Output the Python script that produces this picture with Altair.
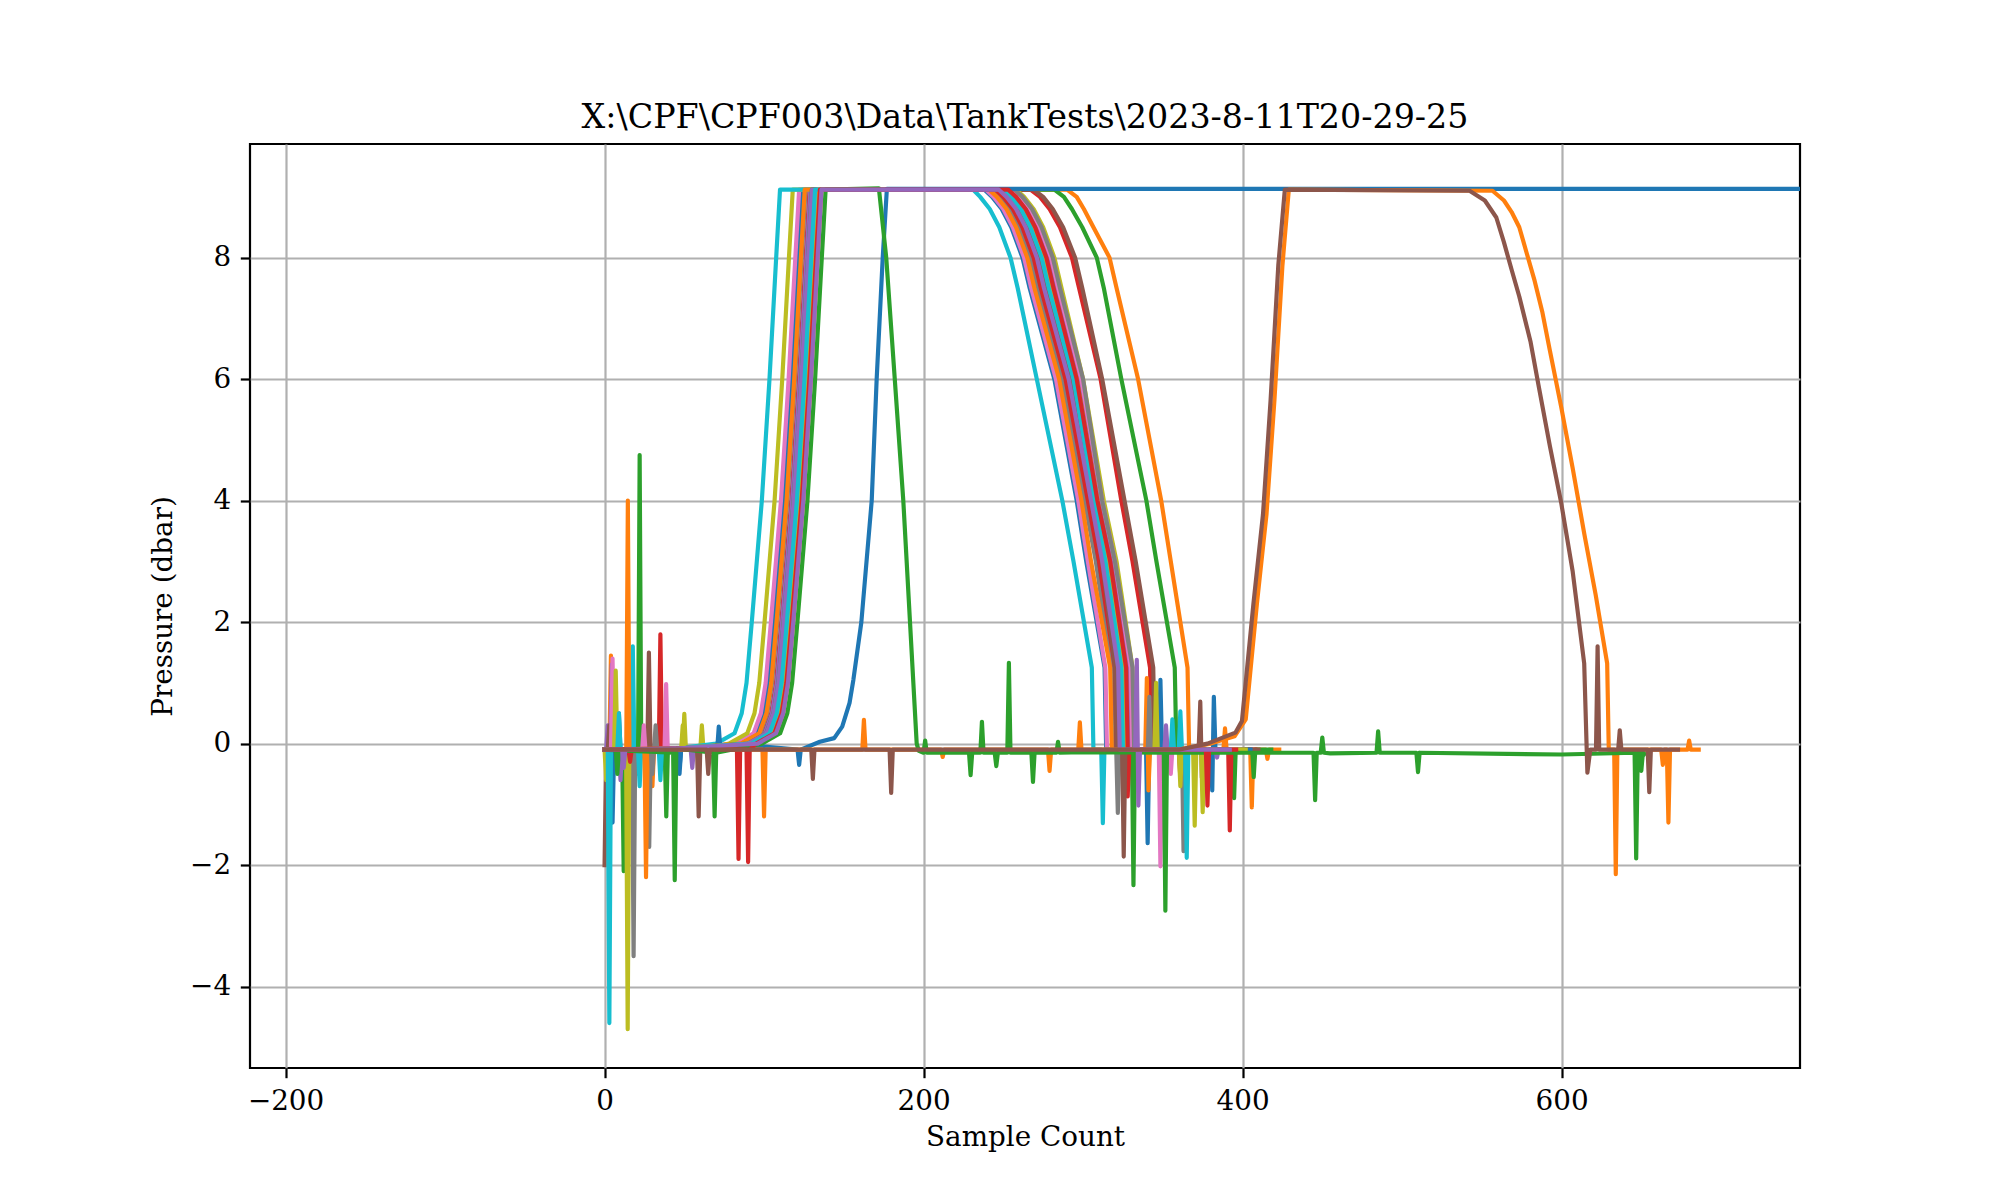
import altair as alt
import pandas as pd

TITLE = r"X:\CPF\CPF003\Data\TankTests\2023-8-11T20-29-25"
X_TITLE = "Sample Count"
Y_TITLE = "Pressure (dbar)"
X_TICKS = [-200, 0, 200, 400, 600]
Y_TICKS = [-4, -2, 0, 2, 4, 6, 8]
X_DOMAIN = [-222.3, 749.5]
Y_DOMAIN = [-5.34, 9.87]

TAB10 = ["#1f77b4", "#ff7f0e", "#2ca02c", "#d62728", "#9467bd",
         "#8c564b", "#e377c2", "#7f7f7f", "#bcbd22", "#17becf"]
SERIES = ["s%02d" % i for i in range(26)]
COLORS = [TAB10[i % 10] for i in range(26)]

RISE_LEVELS = [0.0, 0.17, 0.5, 1.0, 2.0, 4.0, 6.0, 8.0, 9.12]
FALL_LEVELS = [9.12, 9.0, 8.8, 8.5, 8.0, 7.5, 6.0, 4.0, 3.0, 1.25]

# sample count where each series crosses RISE_LEVELS (None = read separately)
RISE_X = [
    [84, 95.5, 100, 103, 106.3, 112.6, 117.4, 121.6, 124],          # s00
    [96, 107.5, 112, 115, 118.3, 124.6, 129.4, 133.6, 136],         # s01
    [92, 103.5, 108, 111, 114.3, 120.6, 125.4, 129.6, 132],         # s02
    [88.5, 100, 104.5, 107.5, 110.8, 117.1, 121.9, 126.1, 128.5],   # s03
    [89, 100.5, 105, 108, 111.3, 117.6, 122.4, 126.6, 129],         # s04
    [92.5, 104, 108.5, 111.5, 114.8, 121.1, 125.9, 130.1, 132.5],   # s05
    [82, 93.5, 98, 101, 104.3, 110.6, 115.4, 119.6, 122],           # s06
    [86, 97.5, 102, 105, 108.3, 114.6, 119.4, 123.6, 126],          # s07
    [78, 89.5, 94, 97, 100.3, 106.6, 111.4, 115.6, 118],            # s08
    [70, 81.5, 86, 89, 92.3, 98.6, 103.4, 107.6, 110],              # s09
    [91, 102.5, 107, 110, 113.3, 119.6, 124.4, 128.6, 131],         # s10
    [85.5, 97, 101.5, 104.5, 107.8, 114.1, 118.9, 123.1, 125.5],    # s11
    [90, 101.5, 106, 109, 112.3, 118.6, 123.4, 127.6, 130],         # s12
    [93, 104.5, 109, 112, 115.3, 121.6, 126.4, 130.6, 133],         # s13
    [90, 101.5, 106, 109, 112.3, 118.6, 123.4, 127.6, 130],         # s14
    [94, 105.5, 110, 113, 116.3, 122.6, 127.4, 131.6, 134],         # s15
    [93.5, 105, 109.5, 112.5, 115.8, 122.1, 126.9, 131.1, 133.5],   # s16
    [94.5, 106, 110.5, 113.5, 116.8, 123.1, 127.9, 132.1, 134.5],   # s17
    [93.5, 105, 109.5, 112.5, 115.8, 122.1, 126.9, 131.1, 133.5],   # s18
    [92, 103.5, 108, 111, 114.3, 120.6, 125.4, 129.6, 132],         # s19
    None,                                                           # s20
    None,                                                           # s21
    [98.6, 110.1, 114.6, 117.6, 120.9, 127.2, 132, 136.2, 138.6],   # s22
    [95, 106.5, 111, 114, 117.3, 123.6, 128.4, 132.6, 135],         # s23
    [96, 107.5, 112, 115, 118.3, 124.6, 129.4, 133.6, 136],         # s24
    None,                                                           # s25
]

# sample count where each series crosses FALL_LEVELS
FALL_X = [
    [238, 243, 249, 255, 262, 266.5, 282, 296, 302, 313.5],         # s00
    [290, 296, 300.5, 306.5, 316.6, 321, 334.5, 349, 355, 365.5],   # s01
    [282, 288, 293, 299.5, 308.6, 313, 324, 339.7, 346, 357.5],     # s02
    [267, 273, 279, 285.5, 293, 297.5, 311, 324, 331, 342],         # s03
    [246, 251, 257, 263, 270, 274.5, 290, 304, 311, 321],           # s04
    [269, 275, 281, 287.5, 295, 299.5, 312, 326, 333, 344],         # s05
    [239, 244, 250, 256, 263, 267.5, 283, 297, 303, 314],           # s06
    [243, 248, 254, 260, 267, 271.5, 287, 301, 308, 318],           # s07
    [258, 263, 269, 275, 282, 286.5, 300, 313, 321, 331],           # s08
    [231, 235.5, 241.5, 247.5, 254.5, 259, 271, 287, 294, 305.5],   # s09
    [246, 251, 257, 263, 270, 274.5, 290, 304, 310, 321],           # s10
    [241, 246, 252, 258, 265, 269.5, 285, 299, 305, 317],           # s11
    [249, 254, 260, 266, 273, 277.5, 293, 306, 313, 323],           # s12
    [245, 250, 256, 262, 269, 273.5, 289, 303, 310, 320],           # s13
    [254, 259, 265, 271, 278, 282.5, 297, 310, 318, 328],           # s14
    [248, 253, 259, 265, 272, 276.5, 292, 305, 312, 320],           # s15
    [256, 261, 267, 273, 280, 284.5, 299, 312, 320, 330],           # s16
    [257, 262, 268, 274, 281, 285.5, 300, 312, 320, 331],           # s17
    [252, 257, 263, 269, 276, 280.5, 296, 309, 316, 326],           # s18
    [250, 255, 261, 267, 274, 278.5, 294, 307, 314, 324],           # s19
    None,                                                           # s20
    None,                                                           # s21
    None,                                                           # s22
    [253, 258, 264, 270, 277, 281.5, 296, 309, 317, 327],           # s23
    [247, 252, 258, 264, 271, 275.5, 291, 305, 312, 322],           # s24
    None,                                                           # s25
]

END_X = [395, 423, 418, 408, 392, 410, 385, 388, 392, 380, 405, 400, 398,
         395, 395, 390, 398, 400, 402, 390, None, None, None, 396, 392, None]

# series whose shape was read point by point
S20_X = [0, 100, 135, 144, 149, 153.6, 156, 161, 167.5, 170.6, 174.4, 177, 800]
S20_Y = [-0.1, -0.05, 0.03, 0.09, 0.28, 0.67, 1.05, 2.0, 4.0, 6.0, 8.0, 9.13, 9.13]

S21_X = [0, 360, 380, 395, 402, 409, 415, 420, 425, 429, 556.7, 563.9, 568.7,
         573.5, 578.3, 583.1, 587.9, 592.6, 599.8, 607, 614.2, 621.4, 628.6, 629.6, 686]
S21_Y = [-0.1, -0.1, 0.0, 0.12, 0.4, 2.3, 3.77, 5.66, 7.87, 9.12, 9.1, 8.94, 8.75,
         8.5, 8.06, 7.62, 7.11, 6.48, 5.54, 4.53, 3.46, 2.45, 1.32, -0.1, -0.1]

S22_X = [172, 176.6, 187.3, 191.5, 195.7, 197, 300, 455, 600, 652]
S22_Y = [9.14, 8.0, 4.0, 2.0, 0.0, -0.12, -0.14, -0.16, -0.18, -0.17]

S25_X = [0, 360, 378, 395.5, 399.6, 406.8, 412.8, 417.6, 422.4, 426.5, 542.3, 551.9,
         559.1, 563.9, 568.7, 573.5, 580.6, 585.4, 592.6, 599.8, 607, 614.2, 616.2, 618, 673]
S25_Y = [-0.1, -0.1, 0.0, 0.18, 0.37, 2.3, 3.77, 5.66, 7.87, 9.12, 9.1, 8.94,
         8.66, 8.25, 7.8, 7.36, 6.61, 5.92, 4.91, 3.96, 2.83, 1.32, -0.48, -0.1, -0.1]

EXPLICIT = {20: (S20_X, S20_Y), 21: (S21_X, S21_Y), 22: (S22_X, S22_Y), 25: (S25_X, S25_Y)}

# single-sample spikes (sample count, pressure)
SPIKES = [
    [(5, -1.3), (9, 0.5), (47, -0.4), (381, -0.77), (382, 0.77)],                    # s00
    [(4, 1.45), (30, -0.7), (389, 0.25), (405.8, -1.05), (415.6, -0.25)],            # s01
    [(12, -2.1), (38.7, -1.2), (394.7, -0.9), (407, -0.55)],                         # s02
    [(20, -0.5), (35, 1.8), (392, -1.43)],                                           # s03
    [(2, 0.3), (4.5, 1.3), (10, -0.6), (384, -0.23)],                                # s04
    [(0, -2.0), (3, 0.3), (373.5, 0.69), (374.5, -0.56)],                            # s05
    [(5, 1.4), (18, -0.4), (330, -0.3), (355, -0.5)],                                # s06
    [(18.2, -3.5), (28, -1.7), (32, 0.3), (321.8, -1.14), (363, -1.77)],             # s07
    [(1, -0.6), (7, 1.2), (14.5, -4.7), (50, 0.49), (61, 0.3), (370, -1.35), (375, -1.13)],  # s08
    [(3, -4.6), (9, 0.5), (17.7, 1.6), (22, -0.7), (312.4, -1.31)],                  # s09
    [(71.6, 0.28), (340.5, -1.64), (348.5, 1.05)],                                   # s10
    [(14.6, 4.0), (26, -2.2), (325, 0.94), (326, -0.68), (340, 1.08), (341, -0.77)],  # s11
    [(8, -0.5), (22, 4.75), (331.6, -2.33)],                                         # s12
    [(16, -0.3), (84, -1.9), (328, -0.87), (361, -0.56)],                            # s13
    [(55, -0.4), (352, 0.3)],                                                        # s14
    [(27.8, 1.5), (59, -1.2), (325.5, -1.86)],                                       # s15
    [(24.6, 0.3), (38.6, 0.98), (348.5, -2.02)],                                     # s16
    [(30, -0.5), (341.6, 0.77)],                                                     # s17
    [(49, 0.3), (345.8, 1.0), (361, -0.7)],                                          # s18
    [(35, -0.6), (356, 0.4), (361, 0.53), (365, -1.88)],                             # s19
    [(47, -0.5), (122, -0.35)],                                                      # s20
    [(100, -1.2), (162.6, 0.39), (212, -0.22), (279, -0.45), (298, 0.35),
     (634, -2.15), (663.5, -0.35), (667, -1.3), (680, 0.05)],                        # s21
    [(44, -2.25), (69, -1.2), (201, 0.05), (229.5, -0.52), (236.6, 0.36),
     (245.6, -0.37), (253.5, 1.33), (268.6, -0.63), (284.3, 0.03), (351.6, -2.75),
     (445.5, -0.93), (450, 0.1), (485, 0.2), (510, -0.47), (646.8, -1.89), (650, -0.45)],  # s22
    [(90, -1.95), (378, -1.02)],                                                     # s23
    [(12, -0.4), (333.7, 1.38), (334.7, -1.02)],                                     # s24
    [(65, -0.5), (130.6, -0.58), (179.7, -0.81), (622.6, 1.6), (636.5, 0.22), (655, -0.8)],  # s25
]
SPIKE_BASE = [-0.1] * 22 + [-0.15] + [-0.1] * 3


def series_points(i):
    pts = {}
    if i in EXPLICIT:
        xs, ys = EXPLICIT[i]
        for x, y in zip(xs, ys):
            pts[x] = y
    if RISE_X[i] is not None:
        pts[0] = -0.1
        pts[45] = -0.08
        for lv, x in zip(RISE_LEVELS, RISE_X[i]):
            pts[x] = lv
    if FALL_X[i] is not None:
        for lv, x in zip(FALL_LEVELS, FALL_X[i]):
            pts[x] = lv
        pts[FALL_X[i][-1] + 1] = -0.1
        pts[END_X[i]] = -0.1
    spike_x = {x for x, _ in SPIKES[i]}
    for x, _ in SPIKES[i]:
        for nx in (x - 1, x + 1):
            if nx >= 0 and nx not in spike_x and nx not in pts:
                pts[nx] = SPIKE_BASE[i]
    for x, y in SPIKES[i]:
        pts[x] = y
    return sorted(pts.items())


rows = []
for i, name in enumerate(SERIES):
    for x, y in series_points(i):
        rows.append({"series": name, "x": x, "y": y})
df = pd.DataFrame(rows)

FONT = "DejaVu Serif"

chart = (
    alt.Chart(df)
    .mark_line(strokeWidth=4.17, clip=True, strokeJoin="round", strokeCap="square")
    .encode(
        x=alt.X("x:Q",
                scale=alt.Scale(domain=X_DOMAIN, nice=False, zero=False),
                axis=alt.Axis(values=X_TICKS, title=X_TITLE, titlePadding=8)),
        y=alt.Y("y:Q",
                scale=alt.Scale(domain=Y_DOMAIN, nice=False, zero=False),
                axis=alt.Axis(values=Y_TICKS, title=Y_TITLE, titlePadding=12)),
        color=alt.Color("series:N", scale=alt.Scale(domain=SERIES, range=COLORS), legend=None),
        detail="series:N",
    )
    .properties(
        width=1550,
        height=924,
        title=alt.TitleParams(text=TITLE, fontSize=33.3, font=FONT, fontWeight="normal",
                              color="black", anchor="middle", frame="group", offset=9),
        autosize=alt.AutoSizeParams(type="none"),
        padding={"left": 242, "top": 136, "right": 180, "bottom": 110},
    )
    .configure_view(stroke="black", strokeWidth=2.2)
    .configure_axis(
        grid=True, gridColor="#b0b0b0", gridWidth=2.2, gridOpacity=1,
        domain=False, ticks=True, tickColor="black", tickWidth=2.2, tickSize=9.7,
        labelFont=FONT, labelFontSize=27.8, labelColor="black", labelPadding=9.7,
        labelFlush=False, labelOverlap=False,
        titleFont=FONT, titleFontSize=27.8, titleFontWeight="normal", titleColor="black",
    )
)

chart.save("out.html", embed_options={"renderer": "svg", "actions": False})
